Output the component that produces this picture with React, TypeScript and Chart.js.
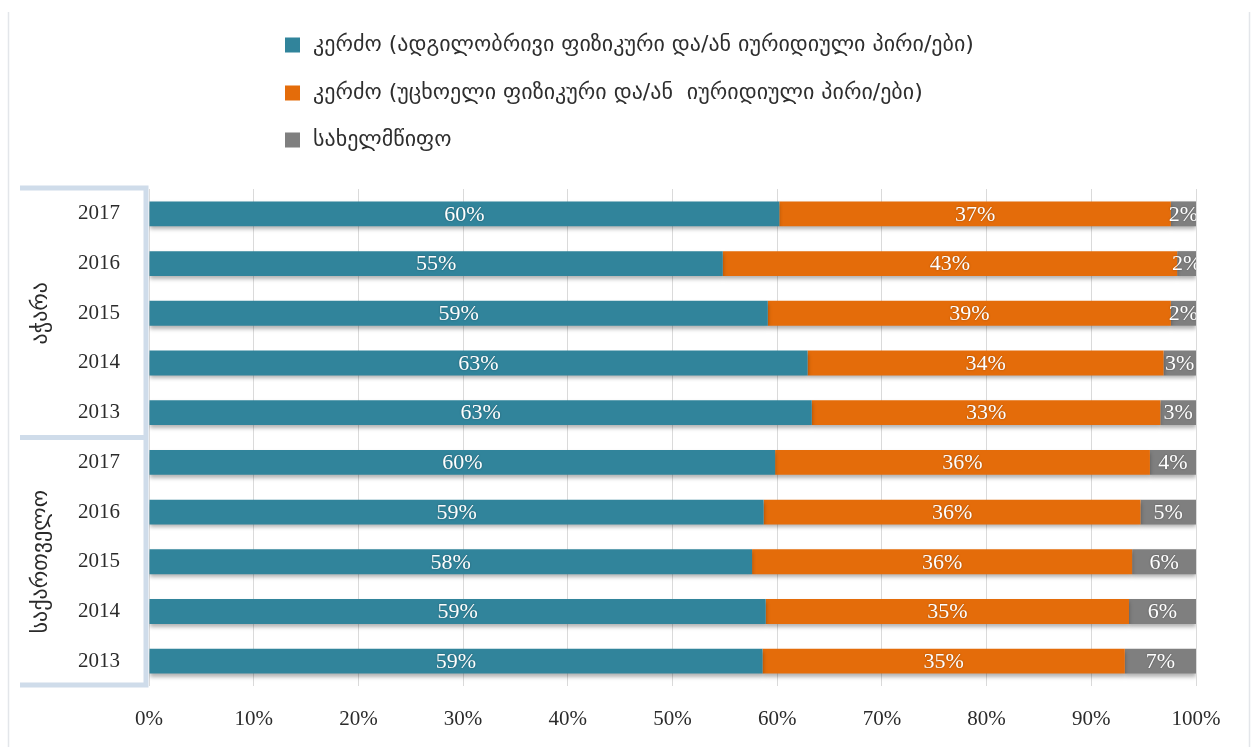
import { useEffect, useRef } from 'react';
import { Chart, registerables } from 'chart.js';
Chart.register(...registerables);

const categories = ['2017', '2016', '2015', '2014', '2013', '2017', '2016', '2015', '2014', '2013'];
const groupLabels = ['აჭარა', 'საქართველო'];
const groupSizes = [5, 5];
const seriesNames = [
  'კერძო (ადგილობრივი ფიზიკური და/ან იურიდიული პირი/ები)',
  'კერძო (უცხოელი ფიზიკური და/ან  იურიდიული პირი/ები)',
  'სახელმწიფო',
];
const localPrivate = [60.2, 54.8, 59.1, 62.9, 63.3, 59.8, 58.7, 57.6, 58.9, 58.6];
const foreignPrivate = [37.4, 43.4, 38.5, 34.0, 33.3, 35.8, 36.0, 36.3, 34.7, 34.6];
const stateOwned = [2.4, 1.8, 2.4, 3.1, 3.4, 4.4, 5.3, 6.1, 6.4, 6.8];
const xTicks = [0, 10, 20, 30, 40, 50, 60, 70, 80, 90, 100];

const colors = ['#31849B', '#E46C0A', '#7F7F7F'];
const serif = '"Liberation Serif", "DejaVu Serif", serif';
const geo = '"DejaVu Sans", "Noto Sans", sans-serif';

const decorPlugin = {
  id: 'decor',
  beforeDraw(chart: any) {
    const { ctx, chartArea, scales } = chart;
    ctx.save();
    ctx.fillStyle = '#ffffff';
    ctx.fillRect(0, 0, chart.width, chart.height);
    // outer frame lines
    ctx.strokeStyle = '#e3e6ea';
    ctx.lineWidth = 1.5;
    ctx.beginPath();
    ctx.moveTo(8.5, 12);
    ctx.lineTo(8.5, chart.height);
    ctx.moveTo(chart.width - 4.5, 12);
    ctx.lineTo(chart.width - 4.5, chart.height);
    ctx.stroke();
    // bracket
    const y = scales.y;
    const top = chartArea.top - 1;
    const bottom = chartArea.bottom - 1;
    let idx = 0;
    const seps: number[] = [top];
    groupSizes.forEach((n) => {
      idx += n;
      if (idx < categories.length) {
        seps.push((y.getPixelForValue(idx - 1) + y.getPixelForValue(idx)) / 2);
      }
    });
    seps.push(bottom);
    ctx.strokeStyle = '#cfdcea';
    ctx.lineWidth = 5;
    ctx.beginPath();
    seps.forEach((sy) => {
      ctx.moveTo(20, sy);
      ctx.lineTo(chartArea.left - 2, sy);
    });
    ctx.moveTo(chartArea.left - 3, top - 2.5);
    ctx.lineTo(chartArea.left - 3, bottom + 2.5);
    ctx.stroke();
    ctx.restore();
  },
  beforeDatasetsDraw(chart: any) {
    const ctx = chart.ctx;
    ctx.save();
    ctx.shadowColor = 'rgba(0,0,0,0.30)';
    ctx.shadowBlur = 4;
    ctx.shadowOffsetY = 3;
  },
  afterDatasetsDraw(chart: any) {
    const { ctx, chartArea } = chart;
    ctx.restore();
    ctx.save();
    ctx.beginPath();
    ctx.rect(chartArea.left, chartArea.top, chartArea.right - chartArea.left, chartArea.bottom - chartArea.top);
    ctx.clip();
    ctx.font = `22px ${serif}`;
    ctx.textAlign = 'center';
    ctx.textBaseline = 'middle';
    ctx.fillStyle = '#ffffff';
    ctx.shadowColor = 'rgba(0,0,0,0.35)';
    ctx.shadowBlur = 2;
    chart.data.datasets.forEach((ds: any, di: number) => {
      const meta = chart.getDatasetMeta(di);
      meta.data.forEach((bar: any, i: number) => {
        const v = ds.data[i];
        const cx = (bar.x + bar.base) / 2;
        ctx.fillText(Math.round(v) + '%', cx, bar.y + 1);
      });
    });
    ctx.restore();
  },
  afterDraw(chart: any) {
    const { ctx, scales } = chart;
    ctx.save();
    // legend
    const legendX = 285;
    const legendY = [45, 93, 140];
    ctx.font = `22px ${geo}`;
    ctx.textBaseline = 'middle';
    ctx.textAlign = 'left';
    chart.data.datasets.forEach((ds: any, i: number) => {
      ctx.fillStyle = ds.backgroundColor;
      ctx.fillRect(legendX, legendY[i] - 7.5, 15, 15);
      ctx.fillStyle = '#2e2e2e';
      ctx.fillText(ds.label, 313, legendY[i]);
    });
    // group labels
    const y = scales.y;
    let start = 0;
    ctx.font = `22px ${geo}`;
    ctx.fillStyle = '#2a2a2a';
    ctx.textAlign = 'center';
    groupLabels.forEach((g, gi) => {
      const end = start + groupSizes[gi] - 1;
      const cy = (y.getPixelForValue(start) + y.getPixelForValue(end)) / 2;
      ctx.save();
      ctx.translate(41, cy);
      ctx.rotate(-Math.PI / 2);
      ctx.fillText(g, 0, 0);
      ctx.restore();
      start = end + 1;
    });
    ctx.restore();
  },
};

export default function App() {
  const ref = useRef<HTMLCanvasElement>(null);
  useEffect(() => {
    document.body.style.margin = '0';
    const chart = new Chart(ref.current!, {
      type: 'bar',
      data: {
        labels: categories,
        datasets: [
          { label: seriesNames[0], data: localPrivate, backgroundColor: colors[0] },
          { label: seriesNames[1], data: foreignPrivate, backgroundColor: colors[1] },
          { label: seriesNames[2], data: stateOwned, backgroundColor: colors[2] },
        ],
      },
      options: {
        indexAxis: 'y',
        responsive: false,
        animation: false,
        events: [],
        layout: { padding: { top: 189, right: 58, left: 0, bottom: 0 } },
        datasets: { bar: { barPercentage: 0.5, categoryPercentage: 1, borderWidth: 0 } },
        plugins: { legend: { display: false }, tooltip: { enabled: false } },
        scales: {
          x: {
            stacked: true,
            min: 0,
            max: 100,
            afterBuildTicks: (s: any) => {
              s.ticks = xTicks.map((v) => ({ value: v }));
            },
            afterFit: (s: any) => {
              s.height = 61;
            },
            grid: { color: '#dadada', lineWidth: 1, drawTicks: false },
            border: { display: false },
            ticks: {
              padding: 21,
              color: '#2b2b2b',
              font: { family: serif, size: 21 },
              callback: (v: any) => v + '%',
            },
          },
          y: {
            stacked: true,
            afterFit: (s: any) => {
              s.width = 149;
            },
            grid: { display: false },
            border: { display: false },
            ticks: {
              padding: 21,
              color: '#2b2b2b',
              font: { family: serif, size: 21 },
            },
          },
        },
      },
      plugins: [decorPlugin],
    } as any);
    return () => chart.destroy();
  }, []);
  return (
    <div style={{ position: 'relative', width: 1254, height: 747, background: '#fff' }}>
      <canvas ref={ref} width={1254} height={747} />
    </div>
  );
}
